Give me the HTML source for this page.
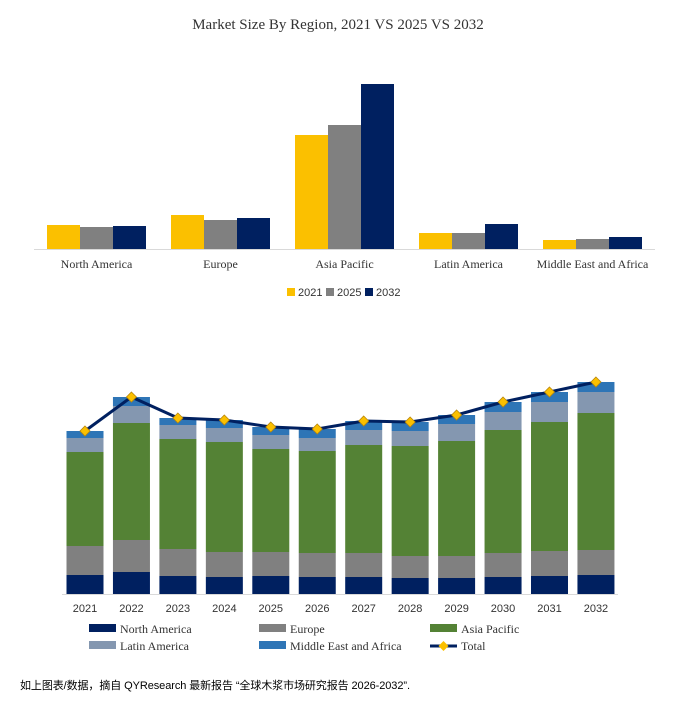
<!DOCTYPE html>
<html><head><meta charset="utf-8"><style>
body{margin:0;background:#fff;width:677px;height:697px;overflow:hidden}
svg text{font-family:"Liberation Serif",serif}
</style></head><body>
<svg width="677" height="697">
<text x="338" y="29" text-anchor="middle" font-size="15" fill="#333">Market Size By Region, 2021 VS 2025 VS 2032</text>
<line x1="34" y1="249.5" x2="655" y2="249.5" stroke="#d9d9d9"/>
<g id="top"></g>
<g id="bottom"></g>
<line x1="62" y1="594.5" x2="618" y2="594.5" stroke="#d9d9d9"/>
<text x="20" y="689" font-size="11" fill="#000" textLength="390" style="font-family:'Liberation Sans','Noto Sans CJK SC',sans-serif">如上图表/数据，摘自 QYResearch 最新报告 “全球木浆市场研究报告 2026-2032”.</text>
</svg>
<script>
const regions=["North America","Europe","Asia Pacific","Latin America","Middle East and Africa"];
const topYears=["2021","2025","2032"];
const v2021=[24,34,114,16,9];
const v2025=[22,29,124,16,10];
const v2032=[23,31,165,25,12];
const years=["2021","2022","2023","2024","2025","2026","2027","2028","2029","2030","2031","2032"];
const na=[19,22,18,17,18,17,17,16,16,17,18,19];
const eu=[29,32,27,25,24,24,24,22,22,24,25,25];
const ap=[94,117,110,110,103,102,108,110,115,123,129,137];
const la=[14,17,14,14,14,13,15,15,17,18,20,21];
const mea=[7,9,7,8,8,9,9,9,9,10,10,10];
const NS="http://www.w3.org/2000/svg";
function mk(p,t,a){const e=document.createElementNS(NS,t);for(const k in a)e.setAttribute(k,a[k]);p.appendChild(e);return e;}
const topG=document.getElementById('top'),botG=document.getElementById('bottom');
const tColors=["#fbc000","#808080","#002060"];
const tSeries=[v2021,v2025,v2032];
const yTop=v=>249-v*1.0;
regions.forEach((r,i)=>{
  const gx=47+i*124;
  tSeries.forEach((s,j)=>{
    const b=mk(topG,'rect',{x:gx+j*33,y:yTop(s[i]),width:33,height:249-yTop(s[i]),fill:tColors[j]});
    
    
  });
  const t=mk(topG,'text',{x:gx+49.5,y:268,'text-anchor':'middle','font-size':12,fill:'#333'});
  t.textContent=r;
  
  
});
topYears.forEach((y,j)=>{
  const lx=[287,326,365][j];
  const s=mk(topG,'rect',{x:lx,y:288,width:8,height:8,fill:tColors[j]});
  
  
  const t=mk(topG,'text',{x:lx+11,y:296,'font-size':11,fill:'#333',style:"font-family:'Liberation Sans',sans-serif"});
  t.textContent=y;
  
  
});
const bColors=["#002060","#808080","#548235","#8497b0","#2e75b6"];
const bSeries=[na,eu,ap,la,mea];
const base=594,sc=1.0,pitch=46.45;
const xc=i=>85+i*pitch;
const totals=[];
years.forEach((y,i)=>{
  let acc=0;
  bSeries.forEach((s,k)=>{
    const b=mk(botG,'rect',{x:xc(i)-18.5,y:base-(acc+s[i])*sc,width:37,height:s[i]*sc,fill:bColors[k]});
    
    
    acc+=s[i];
  });
  totals.push(acc);
  const t=mk(botG,'text',{x:xc(i),y:612,'text-anchor':'middle','font-size':11,fill:'#333',style:"font-family:'Liberation Sans',sans-serif"});
  t.textContent=y;
  
  
});
const pl=mk(botG,'polyline',{points:totals.map((v,i)=>xc(i)+','+(base-v*sc)).join(' '),fill:'none',stroke:'#002060','stroke-width':3});


totals.forEach((v,i)=>{
  const x=xc(i),y=base-v*sc;
  const d=mk(botG,'polygon',{points:`${x},${y-5} ${x+5},${y} ${x},${y+5} ${x-5},${y}`,fill:'#fbc000',stroke:'#b8860b','stroke-width':0.8});
  
  
});
const legPos=[[89,629],[259,629],[430,629],[89,646],[259,646]];
regions.forEach((r,k)=>{
  const [lx,ly]=legPos[k];
  const s=mk(botG,'rect',{x:lx,y:ly-5,width:27,height:8,fill:bColors[k]});
  
  
  const t=mk(botG,'text',{x:lx+31,y:ly+4,'font-size':12,fill:'#333'});
  t.textContent=r;
  
  
});
const tl=mk(botG,'line',{x1:430,y1:646,x2:457,y2:646,stroke:'#002060','stroke-width':3});


const td=mk(botG,'polygon',{points:'443.5,641 448.5,646 443.5,651 438.5,646',fill:'#fbc000'});


const tt=mk(botG,'text',{x:461,y:650,'font-size':12,fill:'#333'});
tt.textContent='Total';


</script>
</body></html>
